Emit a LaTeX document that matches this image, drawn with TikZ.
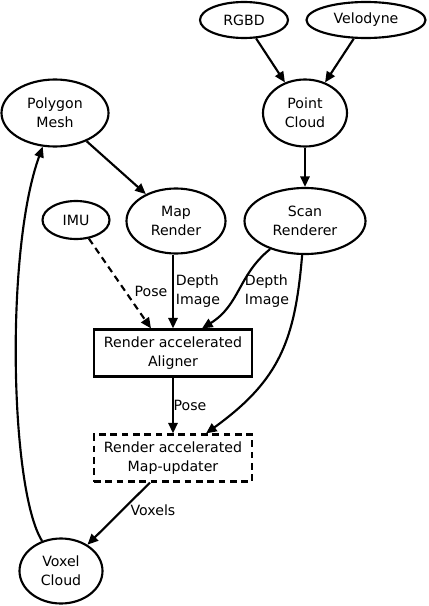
\documentclass[tikz,border=0pt]{standalone}
\usepackage{fontspec}
\setmainfont{DejaVu Sans}
\usetikzlibrary{shapes.geometric,arrows.meta,calc}
\begin{document}
\begin{tikzpicture}[x=0.75pt,y=-0.75pt,
  every node/.style={font=\fontsize{10.6}{14.2}\selectfont},
  ell/.style={ellipse,draw,line width=1.6pt,inner sep=0pt,align=center},
  boxn/.style={rectangle,draw,line width=1.6pt,inner sep=0pt,align=center,minimum width=158*0.75pt,minimum height=47*0.75pt},
  lbl/.style={inner sep=0pt,align=left},
  arr/.style={line width=1.6pt,-{Triangle[length=8pt,width=7pt]}},
]
\useasboundingbox (0,0) rectangle (428,606);
\node[ell,minimum width=88*0.75pt,minimum height=36*0.75pt] (rgbd) at (244,20) {RGBD};
\node[ell,minimum width=119*0.75pt,minimum height=36*0.75pt] (velo) at (366,20) {Velodyne};
\node[ell,minimum width=107*0.75pt,minimum height=67*0.75pt] (mesh) at (55,113) {Polygon\\Mesh};
\node[ell,minimum width=84*0.75pt,minimum height=67*0.75pt] (pc) at (305,113) {Point\\Cloud};
\node[ell,minimum width=67*0.75pt,minimum height=38*0.75pt] (imu) at (76,220) {IMU};
\node[ell,minimum width=99*0.75pt,minimum height=65*0.75pt] (mapr) at (176,221) {Map\\Render};
\node[ell,minimum width=121*0.75pt,minimum height=66*0.75pt] (scan) at (305,221) {Scan\\Renderer};
\node[boxn] (align) at (173,353) {Render accelerated\\Aligner};
\node[boxn,dashed,dash pattern=on 5pt off 3.5pt] (upd) at (173,458) {Render accelerated\\Map-updater};
\node[ell,minimum width=83*0.75pt,minimum height=65*0.75pt] (vox) at (61,571) {Voxel\\Cloud};

\draw[arr] (rgbd) -- (pc);
\draw[arr] (velo) -- (pc);
\draw[arr] (pc) -- (scan);
\draw[arr] (mesh) -- (mapr);
\draw[arr,dashed,dash pattern=on 5pt off 3.5pt] (imu) -- ($(align.north)+(-22,0)$);
\draw[arr] (mapr.south -| align.north) -- (align.north);
\draw[arr] (scan) .. controls (238,275) and (240,305) .. ($(align.north)+(29,0)$);
\draw[arr] (scan) .. controls (295,340) and (280,380) .. ($(upd.north)+(33,0)$);
\draw[arr] (align) -- (upd);
\draw[arr] ($(upd.south)+(-23,0)$) -- (vox);
\draw[arr] (vox) .. controls (10,490) and (5,250) .. (mesh);

\node[lbl] (l1) at (151,291) {Pose};
\node[lbl] (l2) at (198,291) {Depth\\Image};
\node[lbl] (l3) at (267,291) {Depth\\Image};
\node[lbl] (l4) at (190,405) {Pose};
\node[lbl] (l5) at (153,510) {Voxels};
\end{tikzpicture}
\end{document}
